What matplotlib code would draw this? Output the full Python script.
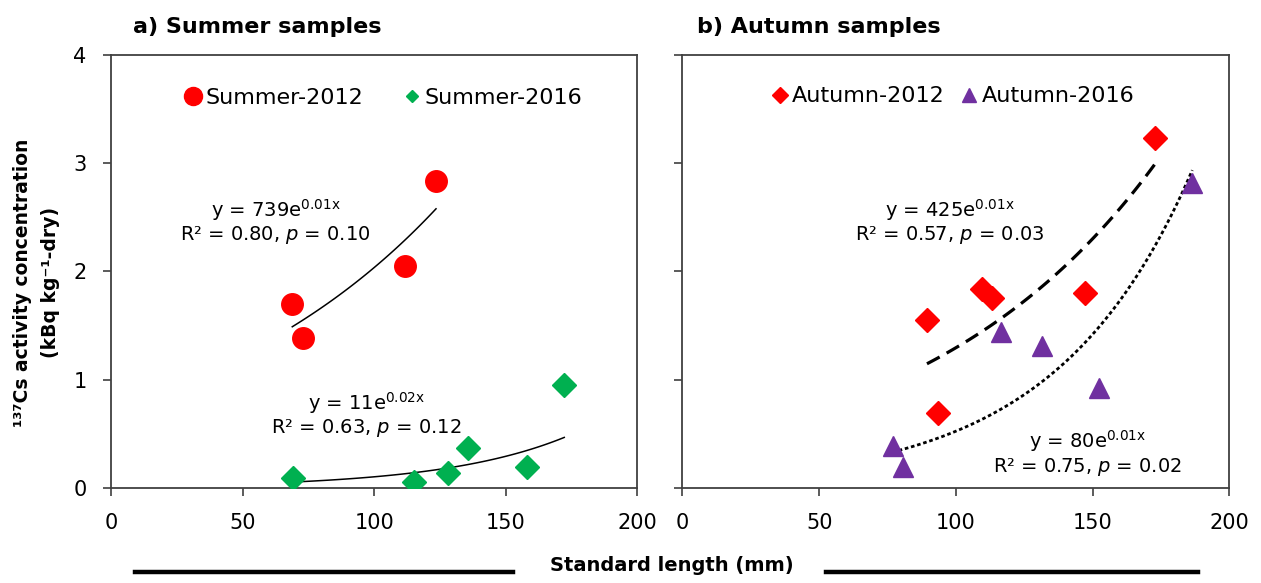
import numpy as np
import matplotlib
matplotlib.use("Agg")
import matplotlib.pyplot as plt
from matplotlib.lines import Line2D

# --- data ---
summer12_x = [68.8, 73.0, 111.7, 123.5]
summer12_y = [1.70, 1.38, 2.05, 2.84]
summer16_x = [69.2, 115.1, 128.2, 135.8, 158.0, 172.3]
summer16_y = [0.087, 0.056, 0.14, 0.37, 0.19, 0.95]
autumn12_x = [89.4, 93.3, 109.5, 113.2, 147.3, 172.9]
autumn12_y = [1.55, 0.69, 1.84, 1.75, 1.80, 3.23]
autumn16_x = [76.8, 80.8, 116.3, 131.5, 152.2, 186.4]
autumn16_y = [0.39, 0.19, 1.44, 1.31, 0.92, 2.82]

eq_summer12 = ("y = 739e$^{\\mathrm{0.01x}}$", "R² = 0.80, $p$ = 0.10")
eq_summer16 = ("y = 11e$^{\\mathrm{0.02x}}$", "R² = 0.63, $p$ = 0.12")
eq_autumn12 = ("y = 425e$^{\\mathrm{0.01x}}$", "R² = 0.57, $p$ = 0.03")
eq_autumn16 = ("y = 80e$^{\\mathrm{0.01x}}$", "R² = 0.75, $p$ = 0.02")

x_ticks = [0, 50, 100, 150, 200]
y_ticks = [0, 1, 2, 3, 4]

RED, GREEN, PURPLE = "#FF0000", "#00B050", "#7030A0"
SPINE = "#404040"

plt.rcParams["font.family"] = "DejaVu Sans"

fig = plt.figure(figsize=(12.61, 5.83), dpi=100)
ax1 = fig.add_axes([0.0884, 0.1635, 0.4168, 0.7418])
ax2 = fig.add_axes([0.5412, 0.1635, 0.4338, 0.7418])


def trend(ax, xs, ys, **kw):
    # exponential trendline (least squares on log y), like Excel
    b, lna = np.polyfit(xs, np.log(ys), 1)
    xx = np.linspace(min(xs), max(xs), 100)
    ax.plot(xx, np.exp(lna) * np.exp(b * xx), color="black", zorder=3, **kw)


def style(ax, ylabels=True):
    ax.set_xlim(0, 200)
    ax.set_ylim(0, 4)
    ax.set_xticks(x_ticks)
    ax.set_yticks(y_ticks)
    if not ylabels:
        ax.set_yticklabels([])
    ax.tick_params(direction="out", length=6, width=1.2, color=SPINE,
                   labelsize=15, pad=12)
    for s in ax.spines.values():
        s.set_color(SPINE)
        s.set_linewidth(1.3)


# --- a) summer ---
ax1.plot(summer12_x, summer12_y, "o", ms=15.5, color=RED, mec=RED,
         label="Summer-2012", zorder=4)
ax1.plot(summer16_x, summer16_y, "D", ms=12, color=GREEN, mec=GREEN,
         label="Summer-2016", zorder=4)
trend(ax1, summer12_x, summer12_y, lw=1.1)
trend(ax1, summer16_x, summer16_y, lw=1.1)
style(ax1)
ax1.text(62.5, 2.57, eq_summer12[0], ha="center", va="center", fontsize=14)
ax1.text(62.5, 2.34, eq_summer12[1], ha="center", va="center", fontsize=14)
ax1.text(97, 0.78, eq_summer16[0], ha="center", va="center", fontsize=14)
ax1.text(97, 0.55, eq_summer16[1], ha="center", va="center", fontsize=14)
leg1 = ax1.legend(loc="center", bbox_to_anchor=(0.517, 0.901), ncol=2,
                  frameon=False, fontsize=16, handlelength=0.8,
                  handletextpad=0.15, columnspacing=1.8)
leg1.legend_handles[0].set_markersize(13)
leg1.legend_handles[1].set_markersize(6.5)

# --- b) autumn ---
ax2.plot(autumn12_x, autumn12_y, "D", ms=12, color=RED, mec=RED,
         label="Autumn-2012", zorder=4)
ax2.plot(autumn16_x, autumn16_y, "^", ms=15, color=PURPLE, mec=PURPLE,
         label="Autumn-2016", zorder=4)
trend(ax2, autumn12_x, autumn12_y, lw=2.3, dashes=(4.5, 2.5))
trend(ax2, autumn16_x, autumn16_y, lw=2.0, dashes=(1.3, 1.0))
style(ax2, ylabels=False)
ax2.text(97.7, 2.57, eq_autumn12[0], ha="center", va="center", fontsize=14)
ax2.text(97.7, 2.34, eq_autumn12[1], ha="center", va="center", fontsize=14)
ax2.text(148, 0.43, eq_autumn16[0], ha="center", va="center", fontsize=14)
ax2.text(148, 0.19, eq_autumn16[1], ha="center", va="center", fontsize=14)
leg2 = ax2.legend(loc="center", bbox_to_anchor=(0.494, 0.905), ncol=2,
                  frameon=False, fontsize=16, handlelength=0.8,
                  handletextpad=0.15, columnspacing=0.7)
leg2.legend_handles[0].set_markersize(8)
leg2.legend_handles[1].set_markersize(10)

# titles and shared labels
fig.text(0.1055, 0.9537, "a) Summer samples", fontsize=16, fontweight="bold",
         ha="left", va="center")
fig.text(0.553, 0.9537, "b) Autumn samples", fontsize=16, fontweight="bold",
         ha="left", va="center")
fig.text(0.018, 0.515, "¹³⁷Cs activity concentration", rotation=90,
         fontsize=13.5, fontweight="bold", ha="center", va="center")
fig.text(0.040, 0.515, "(kBq kg⁻¹-dry)", rotation=90,
         fontsize=13.5, fontweight="bold", ha="center", va="center")
fig.text(0.533, 0.030, "Standard length (mm)", fontsize=14, fontweight="bold",
         ha="center", va="center")
fig.add_artist(Line2D([0.107, 0.407], [0.019, 0.019], color="black", lw=3.2))
fig.add_artist(Line2D([0.655, 0.950], [0.019, 0.019], color="black", lw=3.2))

fig.savefig("out.png", dpi=100)
